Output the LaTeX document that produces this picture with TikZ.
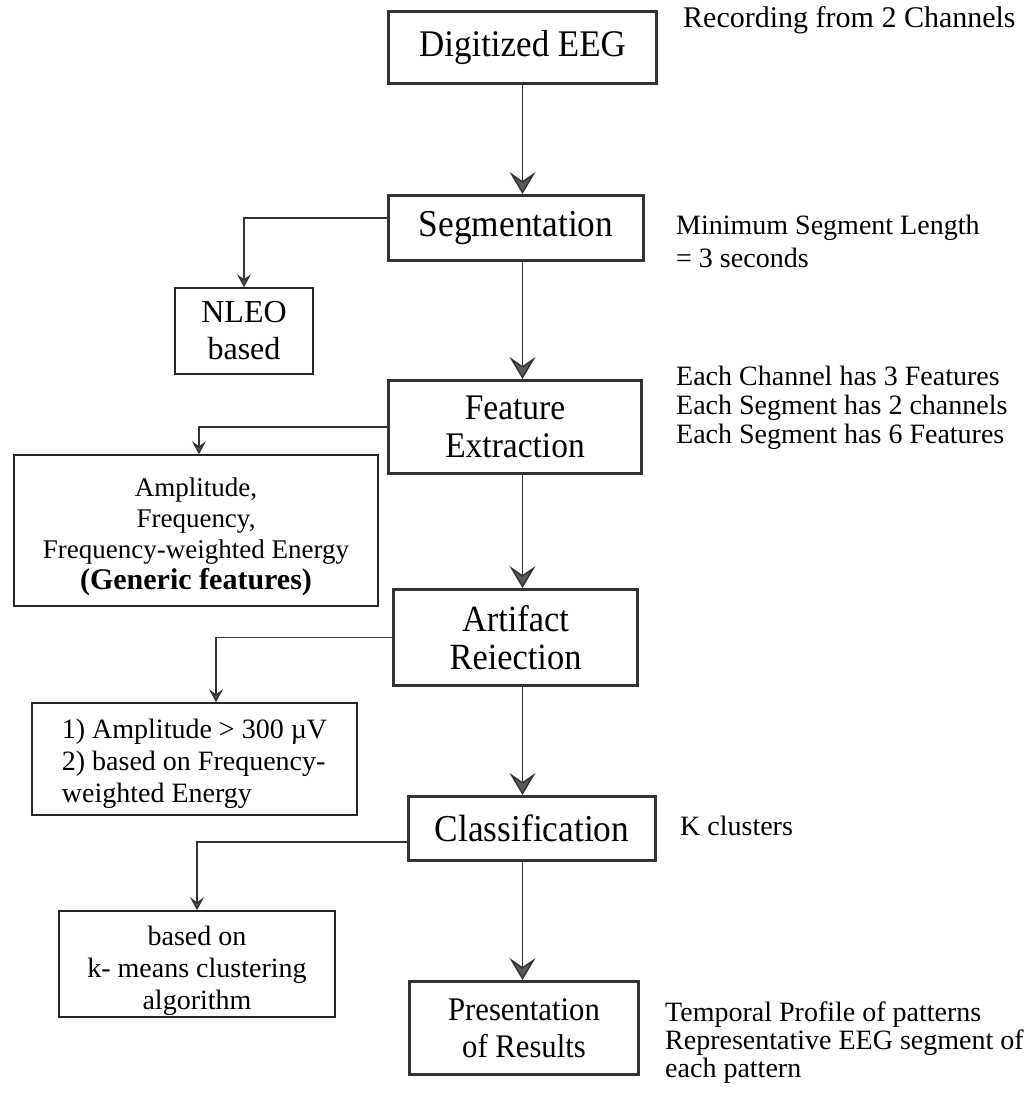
\documentclass[tikz,border=0pt]{standalone}
\usepackage{fontspec}
\setmainfont{Liberation Serif}
\newfontfamily\boxfont[FakeStretch=0.93]{Liberation Serif}
\usetikzlibrary{arrows.meta,calc}
\begin{document}
\begin{tikzpicture}[x=1pt,y=-1pt,
  mainbox/.style={draw=black!80, line width=3pt, inner sep=0pt, align=center},
  subbox/.style={draw=black!85, line width=1.6pt, inner sep=0pt},
  note/.style={anchor=west, align=left, inner sep=0pt},
  mainarr/.style={draw=black!80, line width=1.5pt, -{Stealth[length=22pt,width=26pt,inset=9pt,fill=black!65]}},
  subarr/.style={draw=black!80, line width=1.5pt, -{Stealth[length=13pt,width=14pt,inset=5pt,fill=black!65]}},
  bigfont/.style 2 args={font={\boxfont\fontsize{#1}{#2}\selectfont\lineskiplimit=-50pt}},
  notefont/.style 2 args={font={\fontsize{#1}{#2}\selectfont\lineskiplimit=-50pt}},
]
\useasboundingbox (0,0) rectangle (1032,1096);

% main chain
\node[mainbox, bigfont={37.6}{40}, minimum width=268pt, minimum height=72pt] (dig) at (522.5,47.5) {Digitized EEG};
\node[mainbox, bigfont={38}{40}, minimum width=255pt, minimum height=65pt] (seg) at (516,228) {Segmentation};
\node[mainbox, bigfont={36}{38}, minimum width=253pt, minimum height=93pt] (fe) at (515,427) {Feature\\Extraction};
\node[mainbox, bigfont={37}{37.5}, minimum width=244pt, minimum height=96pt] (ar) at (515.5,637.5) {Artifact\\Reiection};
\node[mainbox, bigfont={38}{40}, minimum width=247pt, minimum height=64pt] (cl) at (532,828.5) {Classification};
\node[mainbox, bigfont={33}{37}, minimum width=229pt, minimum height=93pt] (pr) at (524,1028) {Presentation\\of Results};

% side boxes
\node[subbox, align=center, font={\fontsize{32}{37}\selectfont}, minimum width=138pt, minimum height=86pt] (nleo) at (244,331) {NLEO\\based};
\node[subbox, align=center, font={\fontsize{27}{31}\selectfont}, minimum width=364pt, minimum height=151pt] (amp) at (196,530.5)
  {\rule{0pt}{31pt}Amplitude,\\Frequency,\\Frequency-weighted Energy\\{\bfseries\fontsize{30}{33}\selectfont (Generic features)}};
\node[subbox, align=left, font={\fontsize{28}{32}\selectfont}, minimum width=325pt, minimum height=112pt] (art) at (194.5,759)
  {\rule{0pt}{30pt}1) Amplitude > 300 µV\\2) based on Frequency-\\weighted Energy};
\node[subbox, align=center, font={\fontsize{28}{32}\selectfont}, minimum width=276pt, minimum height=106pt] (km) at (197,964)
  {\rule{0pt}{34pt}based on\\k- means clustering\\algorithm};

% main arrows
\draw[mainarr] (dig.south) -- (dig.south |- seg.north);
\draw[mainarr] (seg.south -| dig.south) -- (fe.north -| dig.south);
\draw[mainarr] (fe.south -| dig.south) -- (ar.north -| dig.south);
\draw[mainarr] (ar.south -| dig.south) -- (cl.north -| dig.south);
\draw[mainarr] (cl.south -| dig.south) -- (pr.north -| dig.south);

% branch arrows
\draw[subarr] ([yshift=10pt]seg.west) -| (nleo.north);
\draw[subarr] (fe.west) -| ([xshift=3pt]amp.north);
\draw[subarr] (ar.west) -| ([xshift=21.5pt]art.north);
\draw[subarr] ([yshift=-13.5pt]cl.west) -| (km.north);

% notes
\node[note, notefont={30}{30}] (rec) at (683,20) {Recording from 2 Channels};
\node[note, notefont={28}{33}] (minl) at (676,241.5) {Minimum Segment Length\\= 3 seconds};
\node[note, notefont={28}{29}] (each) at (676,408) {Each Channel has 3 Features\\Each Segment has 2 channels\\Each Segment has 6 Features};
\node[note, notefont={28}{29}] (kcl) at (680,826) {K clusters};
\node[note, notefont={28}{28}] (tmp) at (665,1043) {Temporal Profile of patterns\\Representative EEG segment of\\each pattern};
\end{tikzpicture}
\end{document}
